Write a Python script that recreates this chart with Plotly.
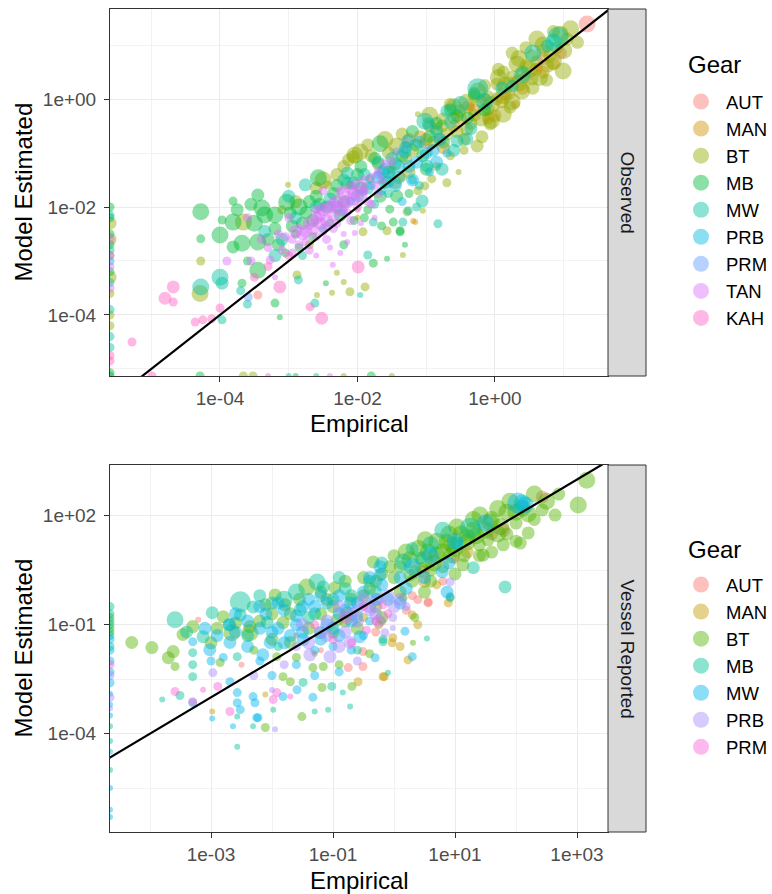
import plotly.graph_objects as go

# ---------------- DATA (log10 values; None = zero value, drawn at panel edge) ----------------
# tuples: (log10 Empirical, log10 Model Estimated, size class)
obs_AUT = [(1.34,1.39,4),(0.63,0.59,2),(0.70,0.75,3),(-0.35,-0.15,2),(-0.95,-0.90,2),(-2.00,-2.05,1),(-3.45,-3.63,2),(0.15,0.05,2),
           (0.95,0.85,3),(0.30,0.35,2),(-1.30,-0.85,2)]
obs_MAN = [(0.00,-0.31,3),(-1.09,-0.70,3),(-1.05,-0.83,2),(-0.80,-0.74,3),(-1.19,-2.26,1),(-1.16,-2.28,1),(0.20,0.10,3),
           (-0.60,-0.50,3),(0.45,0.40,3),(-1.50,-1.30,2),(-2.00,-2.20,1),(0.30,-0.10,2),(-0.30,-0.20,3),(0.60,0.55,3),(-0.15,0.00,3),
           (-1.25,-0.75,3),(-0.95,-0.50,3),(-0.40,-0.15,3),(0.10,-0.05,3),(0.40,0.20,3),(0.70,0.50,3),(-0.75,-0.90,3),(-1.35,-1.45,2),
           (-0.50,-0.35,3),(0.85,0.65,3),(-0.10,-0.35,3)]
obs_BT = [(-4.28,-3.00,2),(-4.29,-3.60,4),(-3.66,-2.28,4),(-3.01,-1.59,1),(-2.44,-1.59,2),(-2.04,-1.04,4),(-2.13,-1.13,3),
          (-2.59,-3.63,1),(-2.37,-3.59,1),(-2.20,-3.39,1),(-2.11,-3.57,2),(-1.89,-3.48,2),(-2.30,-3.22,1),(-2.88,-3.26,2),
          (0.61,1.11,4),(1.05,1.11,3),(0.99,0.52,4),(0.77,0.61,3),(0.61,0.69,3),(0.54,0.80,3),(0.32,0.65,4),(0.26,0.41,3),
          (0.12,0.50,3),(0.03,0.28,3),(0.39,0.15,4),(0.54,0.37,3),(-0.10,0.04,3),(0.03,0.00,3),(0.12,0.06,4),(0.12,-0.28,4),
          (0.22,-0.15,3),(-0.10,-0.19,3),(-0.07,-0.46,3),(-0.19,-0.70,3),(-0.26,-0.87,3),(-0.41,-0.56,3),(-0.41,-0.06,4),
          (-0.51,-0.22,3),(-0.76,-0.37,3),(-0.77,-0.50,3),(-1.12,-0.28,1),(-0.90,-0.80,3),(-0.53,-1.35,1),(-1.96,-0.98,4),
          (-2.06,-1.07,3),(-1.43,-0.87,4),(-0.92,-1.48,2),(-1.02,-1.61,2),(-1.12,-1.70,2),(-1.05,-2.07,1),(-1.28,-2.09,2),
          (-1.57,-2.44,2),(-1.92,-2.46,2),(-1.34,-2.89,1),(0.40,0.50,3),(0.80,0.80,3),(-0.30,-0.30,3),(0.90,0.95,3),
          (0.70,0.90,3),(0.45,0.62,3),(-0.20,-0.05,3),(-0.60,-0.35,3),(-1.30,-1.10,3),(-1.20,-0.95,3),(-0.70,-0.65,3),
          (0.20,0.30,3),(-1.70,-1.20,3),(-2.90,-1.90,3),(-3.10,-2.05,2),(-2.70,-2.70,2),
          (1.10,1.30,4),(0.95,1.20,4),(0.85,0.70,4),(0.65,0.40,4),(0.50,0.55,4),(0.35,0.30,4),(0.15,0.25,4),(-0.05,-0.10,4),
          (-0.20,-0.35,4),(-0.35,-0.45,3),(-0.55,-0.60,3),(-0.65,-0.10,3),(-0.85,-0.55,3),(-1.00,-0.75,3),(-1.35,-0.65,3),
          (-1.55,-1.00,3),(-1.80,-1.05,3),(-2.30,-1.40,3),(-2.50,-1.50,4),(0.45,0.95,3),(0.25,0.85,3),(0.05,0.55,3),
          (-0.15,0.25,3),(-0.30,0.05,3),(0.75,0.35,3),(1.20,1.05,3),(-0.45,-0.95,2),(-0.65,-1.05,2),(-0.85,-1.25,2),
          (-0.70,-1.55,2),(-1.45,-1.55,3),(-1.25,-1.35,3),
          (-0.95,-0.30,4),(-0.60,-0.15,4),(-0.25,0.15,4),(0.05,0.40,4),(0.35,0.75,4),(0.70,1.00,4),(1.00,0.90,4),
          (0.85,1.25,3),(-1.60,-0.75,4),(-1.85,-0.85,3),(-2.20,-1.25,3),(-2.60,-1.65,3),(-0.05,-0.40,4),(0.25,-0.05,4),
          (0.55,0.20,3),(-0.45,-0.75,3),
          (None,-2.30,3),(None,-2.60,3),(None,-2.90,2),(None,-3.30,3),(None,-3.60,2),(None,-4.00,2),(None,-4.20,2),
          (-3.66,None,2),(-3.52,None,2),(-2.20,None,1),(-1.50,None,1)]
obs_MB = [(-4.28,-2.09,4),(-3.81,-1.89,2),(-4.28,-2.59,2),(-4.00,-2.52,4),(-3.97,-2.24,2),(-3.81,-2.28,4),(-3.45,-1.78,3),
          (-3.39,-2.02,4),(-3.03,-1.91,4),(-2.98,-2.11,3),(-2.57,-1.46,4),(-3.81,-2.74,3),(-3.68,-2.67,4),(-3.45,-2.65,4),
          (-3.45,-3.17,4),(-3.68,-3.41,2),(-3.20,-3.78,2),(-3.13,-4.04,1),(-2.46,-3.41,1),(-1.77,-3.04,2),(-2.60,-1.80,3),
          (-2.30,-1.60,3),(-2.20,-1.90,3),(-2.00,-1.40,3),(-1.67,-0.83,4),(-1.82,-1.48,2),(-1.67,-1.80,3),(-1.53,-2.04,2),
          (-1.48,-2.28,2),(-1.38,-2.44,2),(-1.43,-1.80,3),(-1.57,-2.96,1),(-1.31,-2.70,1),(-1.38,-2.46,2),(-0.55,-0.31,3),
          (-0.95,-0.69,3),(-2.80,-2.30,3),(-3.20,-2.40,3),(-2.90,-2.50,2),(-2.40,-2.30,2),(-2.70,-1.90,3),(-3.30,-2.60,3),
          (-1.20,-0.60,3),(-0.30,0.10,3),(-1.00,-1.30,3),(-2.10,-1.60,2),(-3.60,-3.00,2),(-2.20,-2.70,2),
          (-3.50,-2.30,4),(-3.20,-2.15,4),(-2.95,-2.35,3),(-2.75,-2.10,3),(-2.55,-1.95,3),(-2.35,-1.75,3),(-2.15,-1.55,3),
          (-1.95,-1.25,3),(-1.75,-1.10,3),(-1.55,-1.35,3),(-1.35,-1.05,3),(-1.15,-0.85,3),(-0.85,-0.45,3),(-0.65,-0.20,3),
          (-0.40,-0.35,3),(-0.15,-0.20,3),(-2.85,-2.75,2),(-2.65,-2.55,2),(-2.05,-2.25,2),(-1.85,-2.05,2),(-1.65,-2.35,2),
          (-1.25,-1.75,2),(-3.05,-2.85,2),(-3.75,-2.05,3),(-3.55,-1.95,3),
          (-2.45,-2.00,3),(-2.25,-2.15,3),(-1.95,-1.65,3),(-1.60,-1.55,3),(-1.45,-1.20,3),(-1.05,-1.05,3),(-0.75,-0.80,3),
          (-3.35,-2.15,4),(-2.85,-2.00,4),(-2.65,-2.25,3),(-3.15,-2.70,3),(-1.90,-2.20,2),
          (None,-2.00,2),(None,-2.20,2),(None,-2.50,2),(None,-2.70,2),(None,-3.20,2),(None,-5.07,2),
          (-4.29,None,2),(-1.80,None,2),(-2.90,None,1),(None,None,2)]
obs_MW = [(-4.28,-3.48,4),(-4.00,-3.30,4),(-3.97,-3.41,3),(-3.97,-4.09,2),(-2.76,-1.59,3),(-2.15,-1.37,3),(-2.62,-3.78,2),
          (-1.85,-2.89,2),(-2.86,-3.35,2),(-1.96,-3.63,1),(-0.25,0.19,5),(0.25,0.24,3),(0.92,1.15,5),(0.76,0.98,3),
          (-0.70,-0.22,3),(-0.65,-0.43,3),(-0.97,-0.46,3),(-1.02,-0.41,4),(-0.55,-0.78,3),(-0.41,-0.74,3),(-0.83,-2.31,2),
          (-0.99,-1.24,3),(-0.77,-1.30,3),(-1.06,-1.89,3),(-1.14,-2.00,2),(-1.34,-2.28,2),(-1.63,-1.35,3),(-1.70,-1.17,3),
          (-1.77,-2.28,2),(-1.26,-2.07,2),(-2.30,-2.00,3),(-2.00,-1.80,3),(-3.00,-1.80,3),(-2.50,-2.40,2),(-3.70,-3.55,2),
          (-1.20,-1.50,2),
          (-3.35,-2.45,3),(-3.10,-2.60,3),(-2.60,-2.00,3),(-2.40,-1.85,3),(-2.20,-1.50,3),(-1.90,-1.40,3),(-1.50,-1.10,3),
          (-1.30,-0.90,3),(-0.85,-0.60,3),(-0.50,-0.10,4),(0.10,0.20,3),(0.55,0.85,4),(0.85,1.05,4),(-1.55,-1.75,2),
          (-1.10,-1.60,2),(-2.80,-2.90,2),(-3.60,-3.80,2),(-0.35,-0.55,3),
          (-2.05,-1.55,3),(-1.85,-1.65,3),(-1.40,-1.45,3),(-0.60,-0.95,3),(-0.15,-0.05,4),(0.40,0.45,4),(-2.90,-2.20,3),
          (-3.20,-2.90,3),(-1.75,-1.95,2),
          (None,-2.15,2),(None,-2.80,2),(None,-3.40,2),(None,-3.90,2),(None,-4.40,2),(None,-4.60,2),
          (-2.60,None,1),(-3.00,None,1)]
obs_PRB = [(-1.27,-0.78,3),(-1.31,-0.98,3),(-1.14,-1.17,3),(-0.85,-1.17,3),(-1.56,-1.54,3),(-1.50,-1.40,2),(-1.20,-1.50,3),
           (-1.80,-1.60,2),(-1.00,-1.00,3),(-1.65,-1.70,2),(-1.40,-1.25,3),(-0.95,-1.35,2),(None,-3.00,2),
           (-1.70,-1.45,3),(-1.45,-1.60,3),(-1.10,-0.80,3),(-0.90,-0.95,3),(-1.35,-1.90,2),(-2.10,-1.90,2),(-0.70,-1.00,2),
           (-1.25,-1.25,3),(-1.60,-1.30,3),(-0.80,-0.75,3)]
obs_PRM = [(-3.59,-3.67,2),(-1.92,-1.72,2),(-2.50,-2.00,2),(-1.43,-0.98,2),(-2.20,-2.10,2),(-1.70,-1.40,2)]
obs_TAN = [(-3.27,-2.98,2),(-3.10,-2.80,2),(-2.95,-2.60,2),(-2.80,-2.50,3),(-2.70,-2.30,3),(-2.60,-2.20,3),(-2.50,-2.05,3),
           (-2.40,-2.00,3),(-2.30,-1.90,3),(-2.20,-1.75,3),(-2.10,-1.65,3),(-2.00,-1.60,3),(-1.90,-1.50,2),(-1.80,-1.45,2),
           (-1.70,-1.35,2),(-2.60,-2.55,2),(-2.30,-2.30,2),(-2.00,-2.00,2),(-1.85,-1.90,2),(-2.45,-2.60,2),(-3.00,-2.20,2),
           (-3.40,-2.60,2),(-3.55,-3.00,2),(-2.70,-2.80,2),(-2.20,-2.50,1),(-1.90,-1.70,2),(-2.50,-1.70,2),(-2.15,-2.10,2),
           (-1.60,-1.20,2),(-1.50,-1.15,2),(-3.90,-3.00,2),(-3.60,-2.20,2),(-2.35,-2.15,3),(-2.05,-1.85,3),(-2.75,-2.65,2),
           (-1.75,-1.60,2),(-2.85,-2.35,1),(-3.20,-3.30,1),(-2.04,-2.48,1),(-2.36,-3.07,1),(-2.25,-2.85,1),(-1.95,-2.30,1),
           (-2.60,-2.90,1),
           (-2.90,-2.45,3),(-2.65,-2.40,3),(-2.55,-2.30,3),(-2.45,-2.25,3),(-2.25,-2.05,3),(-2.15,-1.90,3),(-1.95,-1.80,3),
           (-1.65,-1.50,2),(-2.85,-2.70,2),(-2.50,-2.45,2),(-2.35,-2.40,2),(-2.10,-2.25,2),(-1.80,-1.95,2),(-3.05,-2.55,2),
           (-3.30,-2.75,2),(-2.60,-2.05,2),(-2.25,-1.70,2),(-1.70,-1.75,2),(-2.40,-2.75,1),(-2.15,-2.65,1),(-1.75,-2.20,1),
           (-2.55,-2.15,3),(-2.35,-1.95,3),(-2.20,-1.95,3),(-2.05,-1.75,3),(-2.75,-2.45,3),(-2.45,-2.35,2),(-1.90,-1.65,2),
           (-2.95,-2.85,2),(-3.15,-2.50,2),
           (None,-2.60,2),(None,-2.90,2),(None,-3.10,2),(None,-3.50,2),(-2.40,None,1)]
obs_KAH = [(-4.68,-3.48,3),(-4.68,-3.76,2),(-4.80,-3.69,3),(-4.36,-4.13,2),(-4.25,-4.09,2),(-4.12,-4.07,2),(-4.00,-3.87,2),
           (-5.28,-4.50,2),(-3.13,-3.48,3),(-2.69,-3.85,2),(-2.52,-4.06,3),(-1.99,-3.11,3),(-3.30,-3.10,2),(-3.00,-2.90,2),
           (-3.50,-3.30,2),(None,-4.75,2),(None,-4.85,2),(-4.99,None,2),(-3.30,None,1)]

ves_AUT = [(2.43,2.52,3),(0.48,0.46,3),(0.56,-0.37,2),(0.39,-0.31,2),(0.56,-0.40,2),(-0.75,-2.18,2),(-0.51,-2.15,2),
           (-0.51,-1.74,2),(-3.21,-0.86,1),(-1.20,-1.70,1),(0.20,-0.60,2),(1.00,0.80,2),(1.60,1.50,3),(-0.20,-0.90,2),
           (-1.60,-1.30,1),(-2.50,-2.10,1),(0.80,0.20,2),(1.80,1.60,3),(-0.30,-1.20,2),(0.30,-0.20,2)]
ves_MAN = [(0.30,-0.73,2),(0.39,-1.00,2),(-0.02,-1.36,2),(-0.03,-1.50,2),(-0.16,-2.43,2),(0.23,-1.97,2),(-0.18,-2.43,2),
           (-0.59,-2.57,2),(-2.11,-2.92,1),(-2.98,-3.39,1),(0.89,-0.40,2),(0.50,0.20,3),(-0.50,-0.80,2),(-1.30,-1.80,1),
           (1.20,1.00,3),(0.70,0.10,2),(-0.25,-1.00,2),(0.10,-1.60,2)]
ves_BT = [(3.16,2.98,4),(3.02,2.30,4),(2.64,2.02,3),(2.43,2.16,3),(2.20,1.53,3),(2.07,1.25,3),(1.79,1.20,3),(1.85,2.10,4),
          (1.57,1.83,4),(1.41,2.02,4),(1.20,1.28,4),(1.54,1.34,3),(1.46,0.92,3),(1.13,0.65,3),(0.95,0.92,4),(0.70,0.92,4),
          (0.56,1.00,4),(0.51,1.34,4),(0.87,1.28,4),(1.03,1.69,4),(0.26,0.79,4),(-0.07,0.60,3),(-0.34,0.73,3),(0.26,0.37,3),
          (0.92,-0.26,2),(0.15,-0.26,2),(0.34,-0.80,2),(0.31,-1.50,1),(-1.43,0.04,4),(-0.97,0.02,3),(-1.95,-0.18,3),
          (-1.79,-0.45,3),(-2.11,-0.45,3),(-2.80,-0.78,3),(-2.36,-1.22,4),(-2.66,-1.22,4),(-3.30,-1.05,3),(-3.46,-1.27,3),
          (-3.97,-1.63,3),(-4.30,-1.49,3),(-3.62,-1.74,3),(-3.70,-1.91,3),(-3.59,-2.15,2),(-2.85,-2.04,2),(-1.82,-2.43,2),
          (-1.70,-2.57,2),(-1.33,-2.18,2),(-1.16,-2.15,2),(-0.69,-2.70,2),(-1.18,-2.73,2),(-1.51,-3.53,2),(-2.11,-3.83,2),
          (-0.93,-0.86,3),(-0.77,-0.67,3),(-1.70,-1.49,3),(-1.92,-1.88,2),(-1.82,-0.94,3),(-2.36,-1.05,3),(0.00,0.30,3),
          (0.60,0.50,3),(1.30,1.60,4),(2.00,1.80,3),(1.70,1.50,4),(0.30,0.20,3),(-0.50,-0.20,3),(-1.00,-0.50,3),
          (-0.30,-0.50,3),(0.10,-0.10,3),(1.00,1.10,4),(2.30,1.90,3),
          (2.50,2.40,4),(2.30,2.60,4),(2.10,2.20,4),(1.90,2.40,4),(1.70,2.20,4),(1.50,1.60,4),(1.30,1.90,4),(1.10,1.50,4),
          (0.90,1.50,4),(0.70,1.30,4),(0.40,1.10,4),(0.20,1.00,4),(0.00,0.90,3),(1.60,1.00,3),(1.85,1.50,3),(1.40,1.20,3),
          (0.80,0.60,3),(0.45,0.55,3),(-0.20,0.40,3),(-0.50,0.30,3),(-0.80,0.20,3),(-1.20,-0.10,3),(-1.55,-0.30,3),
          (-2.00,-0.70,3),(-2.60,-0.95,3),(-1.40,-1.10,3),(-1.00,-1.20,3),(-0.60,-1.10,3),(-0.20,-0.80,3),(0.50,-0.10,3),
          (-2.30,-1.70,2),(-1.60,-1.90,2),(-0.90,-2.10,2),(-0.40,-1.80,2),(2.70,2.60,3),(2.00,1.30,3),
          (0.50,0.80,4),(0.80,1.00,4),(1.20,1.40,4),(1.60,1.90,4),(2.00,2.10,4),(0.10,0.60,3),(-0.40,0.00,3),(-0.70,-0.30,3),
          (-1.10,-0.30,3),(-1.70,-0.70,3),(-2.20,-0.90,3),(-2.90,-1.10,3),(-1.20,-0.70,3),(-0.80,-0.90,3),(-0.30,0.20,3),
          (1.00,0.40,3),(1.40,0.90,3),(0.60,0.20,3),(-3.00,-1.50,3),(-2.00,-1.40,3),
          (1.75,1.70,4),(1.35,1.45,4),(0.95,1.20,4),(0.65,0.70,4),(2.20,2.05,4),(1.15,0.90,3),(0.35,0.45,3),
          (None,-0.80,2),(None,-1.00,2),(None,-1.20,2)]
ves_MB = [(-3.59,-0.86,4),(-3.30,-1.77,2),(-3.30,-2.10,2),(-3.30,-2.43,2),(-3.80,-3.06,1),(-3.51,-2.95,2),(-2.98,-0.67,3),
          (-2.52,-0.37,5),(-2.31,-0.51,3),(-2.52,-0.73,3),(-1.26,0.18,4),(-1.16,0.04,3),(-3.13,-1.33,3),(-2.57,-1.88,2),
          (-2.57,-4.36,1),(-2.31,-3.80,1),(-1.98,-3.34,1),(-1.49,-2.59,2),(-1.30,-3.39,1),(-1.08,-3.34,1),(-1.02,-2.70,2),
          (-0.84,-2.87,1),(-0.72,-3.25,1),(-0.18,-1.47,2),(-1.21,-1.22,3),(-0.61,-0.78,3),(-1.54,-0.59,3),(-2.08,-0.94,3),
          (1.82,0.04,3),(1.25,1.66,5),(1.03,1.25,3),(1.30,0.57,3),(0.43,0.84,3),(0.54,-1.38,1),(-0.18,-1.40,2),
          (-0.10,-2.32,1),(0.15,0.73,4),(-2.57,-3.53,1),(-1.00,-0.30,3),(-0.40,0.20,3),
          (-2.20,-0.20,3),(-1.80,-0.30,4),(-1.40,-0.80,3),(-0.80,0.00,3),(-0.20,0.70,3),(0.30,1.10,3),(0.80,1.60,4),
          (2.10,2.35,4),(-2.70,-1.00,3),(-1.90,-1.60,2),(-0.60,-1.70,2),(-0.30,-0.10,3),
          (-2.00,-0.40,3),(-1.60,-0.10,4),(-1.30,-0.70,3),(-0.70,-0.20,3),(-2.40,-1.30,3),(0.60,1.20,4),(-0.90,0.30,3),
          (-3.40,-1.20,3),
          (None,-0.50,2),(None,-0.70,2),(None,-0.90,2),(None,-1.10,2),(None,-1.30,2),(None,-1.60,2),(None,-3.80,1),
          (None,-4.20,1),(None,-5.00,1)]
ves_MW = [(-3.30,-1.47,2),(-3.30,-3.15,2),(-3.02,-1.69,3),(-2.69,-1.49,3),(-2.69,-2.57,2),(-2.57,-2.87,2),(-2.57,-3.15,2),
          (-2.52,-3.34,2),(-2.64,-3.80,1),(-2.98,-3.58,1),(-2.31,-2.98,2),(-2.28,-3.15,2),(-2.25,-3.56,2),(-2.23,-3.56,2),
          (-1.82,-2.98,2),(-1.59,-2.79,2),(-1.33,-3.00,2),(-0.31,-1.91,2),(-0.56,-1.33,3),(-2.15,-1.83,3),(-2.03,-1.49,3),
          (-1.49,-1.41,3),(-0.72,-0.40,3),(-0.23,0.60,3),(2.15,2.30,4),(2.03,2.35,5),(0.79,0.46,3),(0.87,-0.10,3),
          (0.18,-1.18,2),(0.30,-1.88,2),(0.92,-0.23,2),(-0.23,0.37,3),(-1.80,-0.60,3),(-1.30,-0.50,3),(-0.90,-0.20,3),
          (-1.60,-1.00,3),(-1.10,-1.00,3),(-0.70,-0.90,3),(-0.30,-0.30,3),(-2.60,-1.20,3),(-2.20,-1.10,3),(-1.00,-1.60,2),
          (-0.40,-0.90,2),(0.10,-0.40,3),(-2.80,-1.90,2),(-1.60,-2.10,2),(-2.00,-2.40,2),
          (-2.40,-0.90,3),(-2.10,-0.70,3),(-1.90,-1.10,3),(-1.60,-0.75,3),(-1.40,-0.30,3),(-1.10,-0.40,3),(-0.80,-0.60,3),
          (-0.50,-0.10,3),(-0.20,0.10,3),(0.10,0.30,3),(0.30,0.60,4),(0.60,0.90,4),(1.50,1.80,4),(1.00,1.30,4),
          (-1.20,-1.40,3),(-0.90,-1.30,3),(-1.70,-1.30,3),(-2.40,-1.60,3),(-2.90,-1.30,3),(-0.50,-1.30,2),(-1.30,-2.40,2),
          (-0.90,-2.30,2),(-3.00,-2.00,2),
          (-2.60,-0.70,3),(-2.20,-0.50,3),(-1.90,-0.40,3),(-1.50,-0.50,3),(-1.20,-0.20,3),(-0.90,-0.70,3),(-0.60,-0.40,3),
          (-0.40,0.30,3),(-0.10,-0.30,3),(0.20,0.00,3),(-2.00,-1.20,3),(-1.50,-1.20,3),(-1.00,-1.10,3),(-2.70,-1.00,3),
          (-3.10,-1.10,3),(-1.80,-1.50,3),(0.50,0.30,3),(0.90,0.70,3),(-1.30,-1.70,2),(-2.20,-2.00,2),(-0.70,-1.70,2),
          (None,-1.40,2),(None,-1.70,2),(None,-2.00,2),(None,-2.30,2),(None,-2.60,2),(None,-2.90,1),(None,-3.20,1),
          (None,-3.50,1),(None,-4.50,1),(None,-5.50,1),(None,-6.10,1),(None,-6.30,1)]
ves_PRB = [(-2.97,-2.32,2),(-1.95,-3.88,1),(-1.38,-1.83,3),(-1.05,-1.88,3),(-0.72,-1.49,3),(-0.39,-0.59,3),(-0.28,-0.31,3),
           (-0.15,-1.22,2),(0.92,0.18,2),(-0.02,-1.09,1),(-0.02,-0.80,2),(-0.60,-0.90,3),(-0.50,-0.30,3),(-0.10,-0.20,3),
           (-1.20,-1.20,3),(-0.80,-1.20,3),(-1.60,-1.60,2),(0.20,-0.50,2),(-2.00,-2.80,1),
           (-1.40,-1.50,3),(-1.10,-0.90,3),(-0.70,-0.70,3),(-0.40,-0.50,3),(-0.90,-1.60,3),(-0.25,-0.90,3),(0.10,-0.30,3),
           (-1.80,-2.10,2),(-2.30,-2.40,2),(-0.60,-2.00,2),
           (-1.10,-1.30,3),(-0.60,-0.60,3),(-0.30,-0.70,3),(-1.50,-1.00,3),(-0.90,-0.50,3),(0.00,-0.50,3),
           (None,-2.40,2),(None,-3.00,2),(None,-3.30,1)]
ves_PRM = [(-3.59,-2.84,2),(-3.30,-3.12,2),(-2.89,-2.70,2),(-3.13,-2.79,1),(-2.69,-3.39,2),(-1.98,-3.06,2),(-1.92,-2.87,2),
           (-1.70,-2.98,1),(-0.18,-0.45,2),(-0.50,-0.50,2),(-0.30,-0.90,2),(-1.00,-1.40,2),(-0.10,-0.70,2),
           (-0.80,-0.80,3),(-0.45,-1.15,2),(-1.30,-1.00,2),(-0.70,-1.50,2),(None,-2.10,2)]

obs_gears = ["AUT", "MAN", "BT", "MB", "MW", "PRB", "PRM", "TAN", "KAH"]
obs_colors = ["#F8766D", "#D39200", "#93AA00", "#00BA38", "#00C19F", "#00B9E3", "#619CFF", "#DB72FB", "#FF61C3"]
ves_gears = ["AUT", "MAN", "BT", "MB", "MW", "PRB", "PRM"]
ves_colors = ["#F8766D", "#C49A00", "#53B400", "#00C094", "#00B6EB", "#A58AFF", "#FB61D7"]

obs_x_ticks = [1e-4, 1e-2, 1e0]
obs_x_ticktext = ["1e-04", "1e-02", "1e+00"]
obs_y_ticks = [1e-4, 1e-2, 1e0]
obs_y_ticktext = ["1e-04", "1e-02", "1e+00"]
ves_x_ticks = [1e-3, 1e-1, 1e1, 1e3]
ves_x_ticktext = ["1e-03", "1e-01", "1e+01", "1e+03"]
ves_y_ticks = [1e-4, 1e-1, 1e2]
ves_y_ticktext = ["1e-04", "1e-01", "1e+02"]

# ---------------- LAYOUT CONSTANTS ----------------
W, H = 772, 894
OBS_XR, OBS_YR = (-5.60, 1.644), (-5.13, 1.667)
VES_XR, VES_YR = (-4.656, 3.508), (-6.71, 3.40)
PX_L, PX_R = 110, 608
OBS_T, OBS_B = 9, 376
VES_T, VES_B = 465, 832
ALPHA = 0.45
SIZE_PX = {1: 6, 2: 9, 3: 13, 4: 17, 5: 21}
FONT = "Liberation Sans, Arial, sans-serif"

obs_data = dict(zip(obs_gears, [obs_AUT, obs_MAN, obs_BT, obs_MB, obs_MW, obs_PRB, obs_PRM, obs_TAN, obs_KAH]))
ves_data = dict(zip(ves_gears, [ves_AUT, ves_MAN, ves_BT, ves_MB, ves_MW, ves_PRB, ves_PRM]))

fig = go.Figure()


def add_panel(data, gears, colors, xr, yr, xa, ya, legend):
    for g, c in zip(gears, colors):
        pts = data[g]
        xs = [10 ** p[0] if p[0] is not None else 10 ** xr[0] for p in pts]
        ys = [10 ** p[1] if p[1] is not None else 10 ** yr[0] for p in pts]
        ss = [SIZE_PX[p[2]] for p in pts]
        fig.add_trace(go.Scatter(x=xs, y=ys, mode="markers", xaxis=xa, yaxis=ya, showlegend=False,
                                 marker=dict(color=c, size=ss, opacity=ALPHA, line=dict(width=0)),
                                 hoverinfo="skip"))
    # identity line y = x
    lo, hi = min(xr[0], yr[0]) - 1, max(xr[1], yr[1]) + 1
    fig.add_trace(go.Scatter(x=[10 ** lo, 10 ** hi], y=[10 ** lo, 10 ** hi], mode="lines", xaxis=xa, yaxis=ya,
                             showlegend=False, line=dict(color="black", width=2.2), hoverinfo="skip"))
    for g, c in zip(gears, colors):
        fig.add_trace(go.Scatter(x=[None], y=[None], mode="markers", xaxis=xa, yaxis=ya, name=g, legend=legend,
                                 marker=dict(color=c, size=18, opacity=ALPHA), showlegend=True))


add_panel(obs_data, obs_gears, obs_colors, OBS_XR, OBS_YR, "x", "y", "legend")
add_panel(ves_data, ves_gears, ves_colors, VES_XR, VES_YR, "x2", "y2", "legend2")

xdom = [PX_L / W, PX_R / W]
axis_common = dict(type="log", showline=True, mirror=True, linecolor="#333333", linewidth=1,
                   ticks="outside", ticklen=5, tickwidth=1, tickcolor="#333333",
                   showgrid=True, gridcolor="#EBEBEB", gridwidth=1.2, zeroline=False,
                   tickfont=dict(family=FONT, size=19, color="#4D4D4D"), tickmode="array")


def minor(vals):
    return dict(tickvals=vals, showgrid=True, gridcolor="#F2F2F2", gridwidth=0.7, ticks="")


legend_common = dict(xanchor="left", yanchor="top", bgcolor="rgba(0,0,0,0)", itemwidth=40,
                     font=dict(family=FONT, size=18.5, color="black"), tracegroupgap=0)

fig.update_layout(
    width=W, height=H, margin=dict(l=0, r=0, t=0, b=0, autoexpand=False),
    paper_bgcolor="white", plot_bgcolor="white",
    font=dict(family=FONT, color="black"),
    xaxis=dict(axis_common, domain=xdom, range=list(OBS_XR), anchor="y",
               tickvals=obs_x_ticks, ticktext=obs_x_ticktext, minor=minor([1e-5, 1e-3, 1e-1, 1e1])),
    yaxis=dict(axis_common, domain=[1 - OBS_B / H, 1 - OBS_T / H], range=list(OBS_YR), anchor="x",
               tickvals=obs_y_ticks, ticktext=obs_y_ticktext, minor=minor([1e-5, 1e-3, 1e-1, 1e1]),
               ticklabelstandoff=4),
    xaxis2=dict(axis_common, domain=xdom, range=list(VES_XR), anchor="y2",
                tickvals=ves_x_ticks, ticktext=ves_x_ticktext, minor=minor([1e-4, 1e-2, 1e0, 1e2])),
    yaxis2=dict(axis_common, domain=[1 - VES_B / H, 1 - VES_T / H], range=list(VES_YR), anchor="x2",
                tickvals=ves_y_ticks, ticktext=ves_y_ticktext,
                minor=minor([10 ** -5.5, 10 ** -2.5, 10 ** 0.5]), ticklabelstandoff=4),
    legend=dict(legend_common, x=676 / W, y=1 - 83 / H),
    legend2=dict(legend_common, x=676 / W, y=1 - 566 / H),
)

# facet strips, axis titles, legend titles
shapes = []
annotations = []
for (t, b, label, gear_title_y) in [(OBS_T, OBS_B, "Observed", 65), (VES_T, VES_B, "Vessel Reported", 549)]:
    shapes.append(dict(type="rect", xref="paper", yref="paper", x0=PX_R / W, x1=646 / W,
                       y0=1 - b / H, y1=1 - t / H, fillcolor="#D9D9D9", line=dict(color="#333333", width=1)))
    annotations.append(dict(text=label, xref="paper", yref="paper", x=627 / W, y=1 - (t + b) / 2 / H,
                            showarrow=False, textangle=90, xanchor="center", yanchor="middle",
                            font=dict(family=FONT, size=19, color="#1A1A1A")))
    annotations.append(dict(text="Model Estimated", xref="paper", yref="paper", x=23 / W, y=1 - (t + b) / 2 / H,
                            showarrow=False, textangle=-90, xanchor="center", yanchor="middle",
                            font=dict(family=FONT, size=24, color="black")))
    annotations.append(dict(text="Gear", xref="paper", yref="paper", x=686 / W, y=1 - gear_title_y / H,
                            showarrow=False, xanchor="left", yanchor="middle",
                            font=dict(family=FONT, size=24, color="black")))
annotations.append(dict(text="Empirical", xref="paper", yref="paper", x=(PX_L + PX_R) / 2 / W, y=1 - 423 / H,
                        showarrow=False, xanchor="center", yanchor="middle", font=dict(family=FONT, size=24)))
annotations.append(dict(text="Empirical", xref="paper", yref="paper", x=(PX_L + PX_R) / 2 / W, y=1 - 880 / H,
                        showarrow=False, xanchor="center", yanchor="middle", font=dict(family=FONT, size=24)))
fig.update_layout(shapes=shapes, annotations=annotations)

fig.write_html("out.html")
